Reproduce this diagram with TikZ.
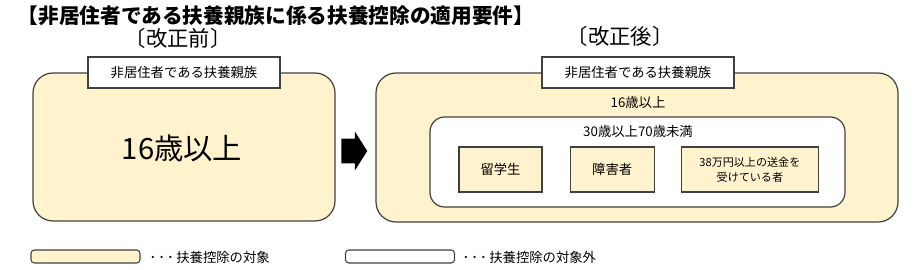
\documentclass[tikz,border=0pt]{standalone}
\usepackage{fontspec}
\setmainfont{Noto Sans CJK JP}
\usetikzlibrary{shapes.arrows,positioning}
\definecolor{targetfill}{RGB}{255,243,206}
\definecolor{boxline}{RGB}{64,64,64}
\newcommand{\legenddots}{･\hspace{1.5pt}･\hspace{1.5pt}･\hspace{2pt}}

\begin{document}
\begin{tikzpicture}[x=0.75pt, y=-0.75pt,
    zone/.style={rectangle, draw=boxline, line width=0.9pt, rounded corners=#1, fill=targetfill},
    zone/.default=15pt,
    headbox/.style={rectangle, draw=boxline, line width=0.8pt, fill=white, minimum width=144pt, minimum height=23.25pt, font=\fontsize{10}{12}\selectfont},
    reqbox/.style={rectangle, draw=boxline, line width=0.9pt, fill=targetfill, minimum height=33.75pt, align=center, font=\fontsize{#1}{11}\selectfont},
    reqbox/.default=10,
    legendbox/.style={rectangle, draw=boxline, line width=0.8pt, rounded corners=2.5pt, minimum width=81.75pt, minimum height=9.75pt, fill=#1},
    legendtext/.style={anchor=west, font=\fontsize{10}{12}\selectfont},
    node distance=20.25pt
]
    \useasboundingbox (0,0) rectangle (921,270);

    % Title and headings
    \node[anchor=west, font=\fontsize{15.5}{18}\selectfont\bfseries] (title) at (13,16) {【非居住者である扶養親族に係る扶養控除の適用要件】};
    \node[font=\fontsize{16}{18}\selectfont] (before) at (178,38) {〔改正前〕};
    \node[font=\fontsize{16}{18}\selectfont] (after) at (620,36) {〔改正後〕};

    % Before the revision
    \node[zone, minimum width=226.5pt, minimum height=111pt] (oldzone) at (184,147) {};
    \node[headbox] (oldhead) at (184,72.5) {非居住者である扶養親族};
    \node[font=\fontsize{22}{24}\selectfont] (oldage) at (182,148) {16歳以上};

    % Change arrow
    \node[single arrow, fill=black, inner sep=0pt, text height=18pt, text depth=0pt,
          minimum height=19.5pt, single arrow head extend=5.25pt, single arrow tip angle=115,
          anchor=tail] (change) at (341,151) {};

    % After the revision
    \node[zone, minimum width=391.5pt, minimum height=111.75pt] (newzone) at (637,147.5) {};
    \node[headbox] (newhead) at (638,72.5) {非居住者である扶養親族};
    \node[font=\fontsize{10}{12}\selectfont] (newage) at (638,102) {16歳以上};
    \node[rectangle, draw=boxline, line width=0.9pt, rounded corners=11pt, fill=white,
          minimum width=311.25pt, minimum height=67.5pt] (midage) at (637.5,162) {};
    \node[font=\fontsize{10}{12}\selectfont] (midlabel) at (638,131) {30歳以上70歳未満};

    \node[reqbox, minimum width=62.25pt] (student) at (500.5,169.5) {留学生};
    \node[reqbox, minimum width=63pt, right=of student] (disabled) {障害者};
    \node[reqbox=8.3, minimum width=102.75pt, right=19.5pt of disabled] (remit) {38万円以上の送金を\\受けている者};

    % Legend
    \node[legendbox=targetfill] (keyin) at (85.5,256.5) {};
    \node[legendtext] (keyintext) at (145,257) {\legenddots 扶養控除の対象};
    \node[legendbox=white] (keyout) at (400,256.5) {};
    \node[legendtext] (keyouttext) at (458,257) {\legenddots 扶養控除の対象外};
\end{tikzpicture}
\end{document}
